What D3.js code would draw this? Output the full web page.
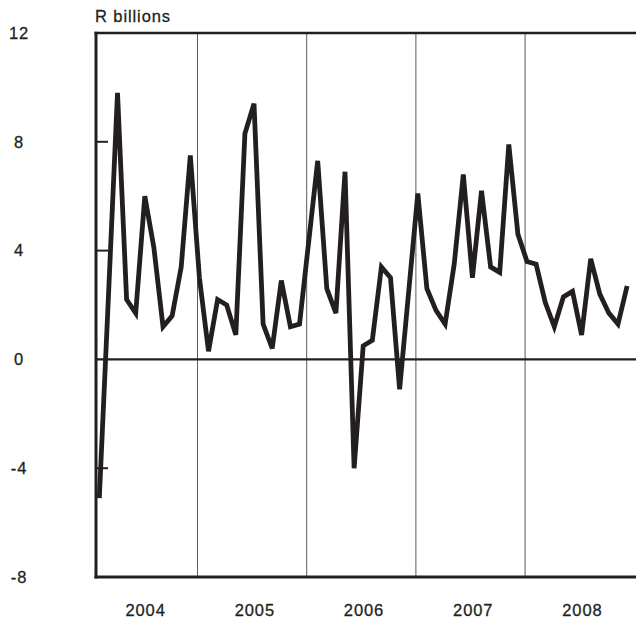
<!DOCTYPE html>
<html>
<head>
<meta charset="utf-8">
<script src="https://cdn.jsdelivr.net/npm/d3@7"></script>
<style>
  html, body { margin: 0; padding: 0; background: #fff; }
  svg { display: block; font-family: "Liberation Sans", Arial, Helvetica, sans-serif; }
  svg text { stroke: #231f20; stroke-width: 0.3px; }
</style>
</head>
<body>
<svg id="chart" width="636" height="620"></svg>
<script>
// Monthly values, February 2004 to December 2008 (R billions)
const startMonth = 1; // index of Feb 2004 counting from Jan 2004 = 0
const values = [
  -5.1, 2.3, 9.8, 2.2, 1.7, 6.0, 4.1, 1.2, 1.6, 3.4, 7.5,          // 2004 Feb-Dec
  3.0, 0.3, 2.2, 2.0, 0.9, 8.3, 9.4, 1.3, 0.4, 2.9, 1.2, 1.3,     // 2005
  4.3, 7.3, 2.6, 1.7, 6.9, -4.0, 0.5, 0.7, 3.4, 3.0, -1.1, 2.5,   // 2006
  6.1, 2.6, 1.8, 1.3, 3.5, 6.8, 3.0, 6.2, 3.4, 3.2, 7.9, 4.6,     // 2007
  3.6, 3.5, 2.1, 1.2, 2.3, 2.5, 0.9, 3.7, 2.4, 1.7, 1.3, 2.7      // 2008
];
const years = ["2004", "2005", "2006", "2007", "2008"];
const yTicks = [12, 8, 4, 0, -4, -8];
const innerTicks = [8, 4, -4];
const unitLabel = "R billions";

(function () {
const svg = d3.select("#chart");
const mLeft = 96, mTop = 33, mRight = 636, mBottom = 577;
const fs = 16.5, ls = 0.9;

const y = d3.scaleLinear().domain([-8, 12]).range([mBottom, mTop]);
const x = d3.scaleLinear().domain([0, 60]).range([88.3, 634.3]);
const offset = 0.21;

// year separators
svg.append("g").selectAll("line")
  .data(d3.range(1, years.length))
  .join("line")
  .attr("x1", d => x(d * 12)).attr("x2", d => x(d * 12))
  .attr("y1", mTop).attr("y2", mBottom)
  .attr("stroke", "#5a5a5a").attr("stroke-width", 1);

// zero line
svg.append("line")
  .attr("x1", mLeft).attr("x2", mRight)
  .attr("y1", y(0)).attr("y2", y(0))
  .attr("stroke", "#231f20").attr("stroke-width", 2.2);

// inner ticks
svg.append("g").selectAll("line")
  .data(innerTicks)
  .join("line")
  .attr("x1", mLeft).attr("x2", mLeft + 12)
  .attr("y1", d => y(d)).attr("y2", d => y(d))
  .attr("stroke", "#231f20").attr("stroke-width", 2);

// top border
svg.append("line")
  .attr("x1", mLeft - 1.5).attr("x2", mRight)
  .attr("y1", mTop).attr("y2", mTop)
  .attr("stroke", "#231f20").attr("stroke-width", 2.5);

// left axis
svg.append("line")
  .attr("x1", mLeft).attr("x2", mLeft)
  .attr("y1", mTop - 1.2).attr("y2", mBottom + 1.5)
  .attr("stroke", "#231f20").attr("stroke-width", 3);

// bottom axis
svg.append("line")
  .attr("x1", mLeft - 1.5).attr("x2", mRight)
  .attr("y1", mBottom).attr("y2", mBottom)
  .attr("stroke", "#231f20").attr("stroke-width", 3);

// data line
const line = d3.line()
  .x((d, i) => x(startMonth + i + offset))
  .y(d => y(d));
svg.append("path")
  .datum(values)
  .attr("d", line)
  .attr("fill", "none")
  .attr("stroke", "#231f20")
  .attr("stroke-width", 4.8)
  .attr("stroke-linejoin", "miter")
  .attr("stroke-miterlimit", 4);

// y tick labels
svg.append("g").selectAll("text")
  .data(yTicks)
  .join("text")
  .attr("x", 19).attr("y", d => y(d))
  .attr("dy", "0.35em")
  .attr("text-anchor", "middle")
  .attr("font-size", fs)
  .attr("letter-spacing", ls)
  .attr("fill", "#231f20")
  .text(d => d);

// unit label
svg.append("text")
  .attr("x", 95).attr("y", 22)
  .attr("font-size", fs)
  .attr("letter-spacing", ls)
  .attr("fill", "#231f20")
  .text(unitLabel);

// year labels
svg.append("g").selectAll("text")
  .data(years)
  .join("text")
  .attr("x", (d, i) => x(i * 12 + 6.3))
  .attr("y", 616)
  .attr("text-anchor", "middle")
  .attr("font-size", fs)
  .attr("letter-spacing", ls)
  .attr("fill", "#231f20")
  .text(d => d);
})();
</script>
</body>
</html>
